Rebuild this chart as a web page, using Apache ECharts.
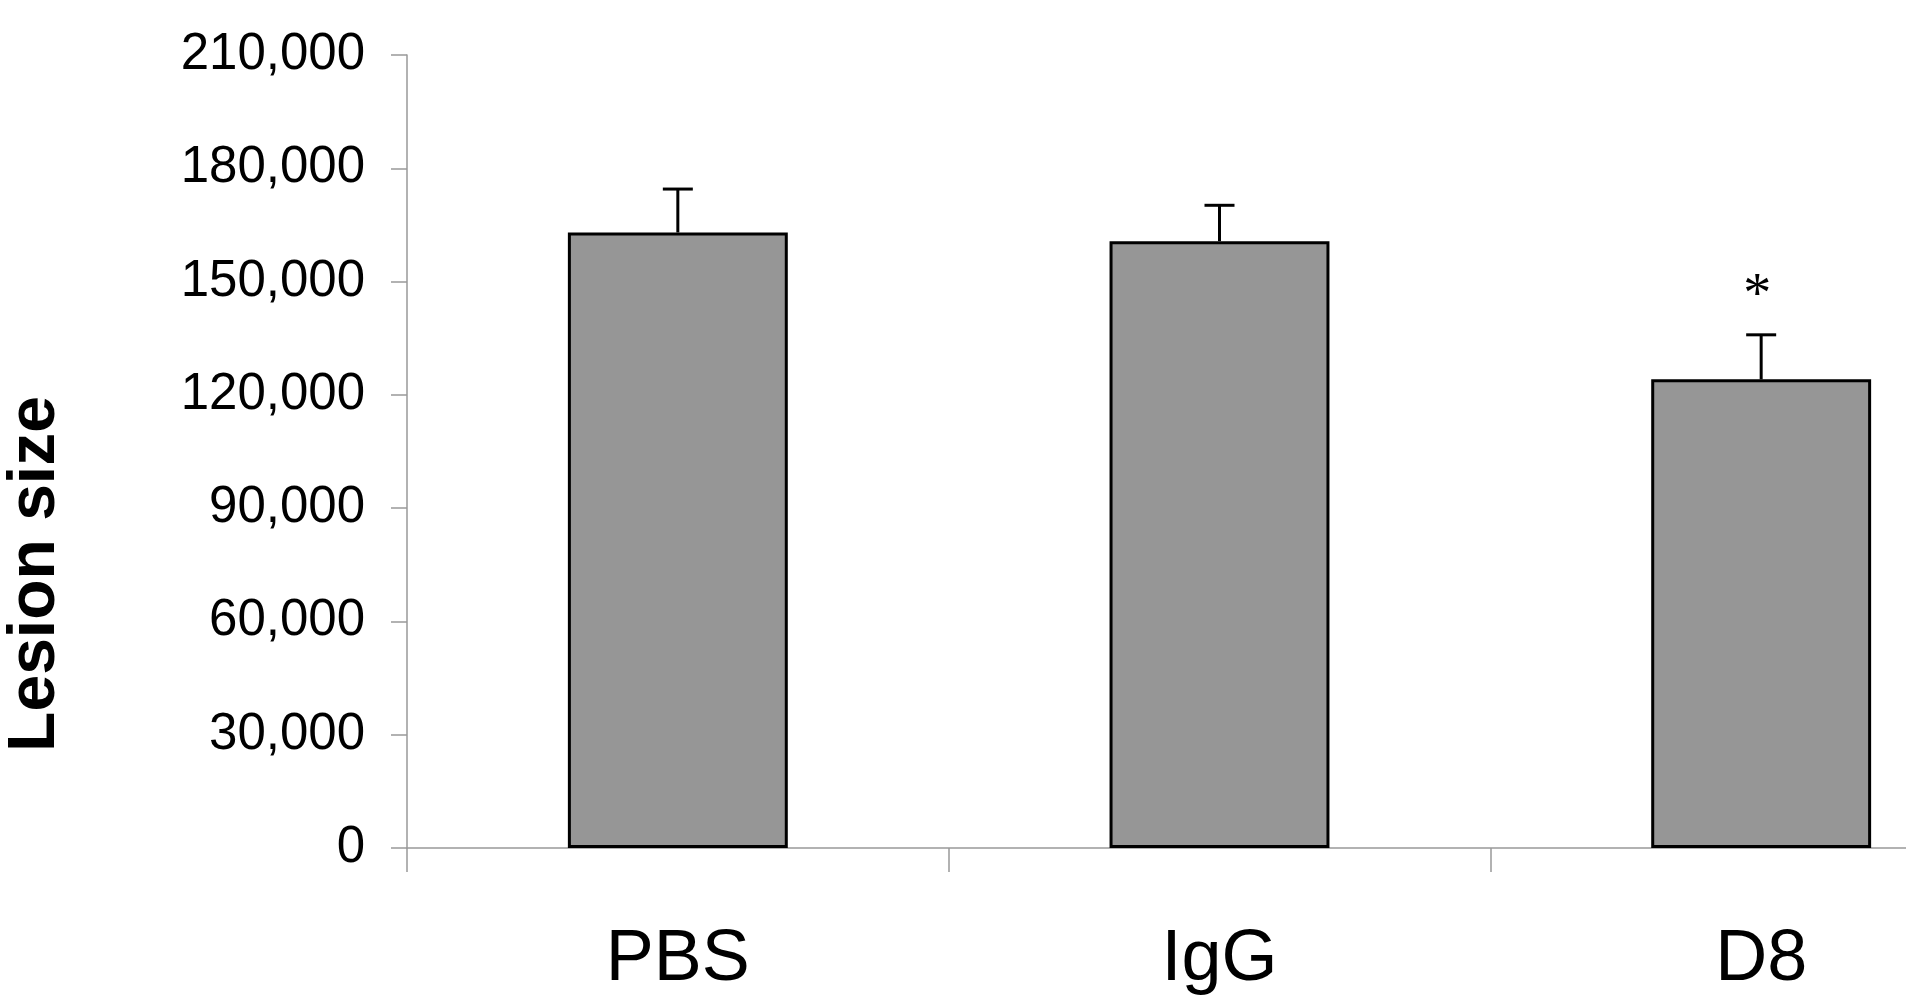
<!DOCTYPE html>
<html>
<head>
<meta charset="utf-8">
<title>Lesion size</title>
<script src="https://cdn.jsdelivr.net/npm/echarts@6/dist/echarts.min.js"></script>
<style>
  html, body { margin: 0; padding: 0; background: #fff; overflow: hidden; }
  /* the figure is cropped on the right: the plot runs past the window edge */
  #chart1 { width: 2032px; height: 1006px; }
</style>
</head>
<body>
<div id="chart1"></div>
<script>
// data
var categories = ['PBS', 'IgG', 'D8'];
var means = [163000, 160700, 124100];
var errors = [11500, 9500, 11800];
var marks = ['', '', '*'];
var yMax = 210000;
var yStep = 30000;

var mychart1 = echarts.init(document.getElementById('chart1'));

var errData = categories.map(function (c, i) {
    return [i, means[i], errors[i]];
});

var option = {
    backgroundColor: '#fff',
    animation: false,
    grid: {
        left: 407,
        top: 55,
        bottom: 158,
        right: 0
    },
    graphic: [{
        type: 'text',
        x: 36,
        y: 574,
        rotation: Math.PI / 2,
        style: {
            text: 'Lesion size',
            font: 'bold 66px "Liberation Sans", Arial, sans-serif',
            fill: '#000',
            align: 'center',
            verticalAlign: 'middle'
        }
    }],
    xAxis: {
        type: 'category',
        data: categories,
        boundaryGap: true,
        axisLine: { lineStyle: { color: '#999', width: 1.5 } },
        axisTick: { show: true, length: 24, lineStyle: { color: '#999', width: 1.5 } },
        axisLabel: {
            margin: 76,
            color: '#000',
            fontSize: 72,
            fontFamily: '"Liberation Sans", Arial, sans-serif'
        }
    },
    yAxis: {
        type: 'value',
        min: 0,
        max: yMax,
        interval: yStep,
        splitLine: { show: false },
        axisLine: { show: true, lineStyle: { color: '#999', width: 1.5 } },
        axisTick: { show: true, length: 16, lineStyle: { color: '#999', width: 1.5 } },
        axisLabel: {
            margin: 42,
            color: '#000',
            fontSize: 51,
            fontFamily: '"Liberation Sans", Arial, sans-serif',
            formatter: function (v) { return v.toLocaleString('en-US'); }
        }
    },
    series: [{
        name: 'Lesion size',
        type: 'bar',
        data: means,
        barWidth: '40.6%',
        itemStyle: {
            color: '#969696',
            borderColor: '#000',
            borderWidth: 3
        }
    }, {
        name: 'error',
        type: 'custom',
        z: 5,
        data: errData,
        renderItem: function (params, api) {
            var i = api.value(0);
            var base = api.coord([i, api.value(1)]);
            var top = api.coord([i, api.value(1) + api.value(2)]);
            var half = 15;
            var st = { stroke: '#000', lineWidth: 3 };
            var children = [{
                type: 'line',
                shape: { x1: base[0], y1: base[1], x2: top[0], y2: top[1] },
                style: st
            }, {
                type: 'line',
                shape: { x1: top[0] - half, y1: top[1], x2: top[0] + half, y2: top[1] },
                style: st
            }];
            if (marks[i]) {
                children.push({
                    type: 'text',
                    x: top[0] - 4,
                    y: top[1] - 38,
                    style: {
                        text: marks[i],
                        font: '56px "Liberation Serif", "Times New Roman", serif',
                        fill: '#000',
                        align: 'center',
                        verticalAlign: 'middle'
                    }
                });
            }
            return { type: 'group', children: children };
        }
    }]
};

mychart1.setOption(option);
</script>
</body>
</html>
